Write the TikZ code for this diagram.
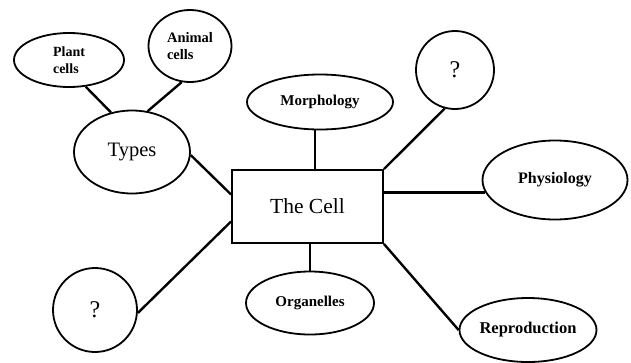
\documentclass[tikz,border=0pt]{standalone}
\usepackage{fontspec}
\setmainfont{Liberation Serif}
\usetikzlibrary{shapes.geometric,calc}
\begin{document}
\begin{tikzpicture}[x=1pt,y=-1pt,
  bubble/.style={draw,ellipse,line width=1.8pt,inner sep=0pt},
  ring/.style={draw,circle,line width=1.8pt,inner sep=0pt,font=\fontsize{24}{28}\selectfont},
  link/.style={line width=2.4pt},
  lab/.style={font=\bfseries\fontsize{#1}{17}\selectfont}]
\useasboundingbox (0,0) rectangle (631,362);
\node[draw,line width=1.8pt,minimum width=151pt,minimum height=73pt,inner sep=0pt,
  font=\fontsize{21.5}{24}\selectfont] (cell) at (307.5,206.5) {The Cell};
\node[bubble,minimum width=116pt,minimum height=83pt,font=\fontsize{20.5}{24}\selectfont] (types) at (132,152) {Types};
\node[bubble,minimum width=110pt,minimum height=54pt,lab=14,align=left] (plant) at (69,60) {Plant\\cells};
\node[bubble,minimum width=83pt,minimum height=72pt,lab=14.5,align=left] (animal) at (190,46) {Animal\\cells};
\node[bubble,minimum width=146pt,minimum height=55pt,lab=15] (morph) at (320,102) {Morphology};
\node[ring,minimum size=78pt] (qtr) at (455,70) {?};
\node[bubble,minimum width=145pt,minimum height=79pt,lab=16] (phys) at (555,180) {Physiology};
\node[bubble,minimum width=128pt,minimum height=63pt,lab=15] (orga) at (310,303) {Organelles};
\node[bubble,minimum width=114pt,minimum height=64pt,lab=16.5] (repro) at (528,330) {Reproduction};
\node[ring,minimum size=84pt] (qbl) at (95,310) {?};
\draw[link] (plant.-58) -- (types.118);
\draw[link] (animal.-103) -- (types.69);
\draw[link] (types.-3) -- ($(cell.north west)!0.34!(cell.south west)$);
\draw[link] (qbl.-4) -- ($(cell.north west)!0.7!(cell.south west)$);
\draw[link] (morph.south -| 315,0) -- (cell.north -| 315,0);
\draw[link] (qtr.-105) -- (cell.north east);
\draw[link] (phys.190) -- (cell.east |- phys.190);
\draw[link] (orga.north) -- (orga.north |- cell.south);
\draw[link] (cell.south east) -- (repro.west);
\end{tikzpicture}
\end{document}
